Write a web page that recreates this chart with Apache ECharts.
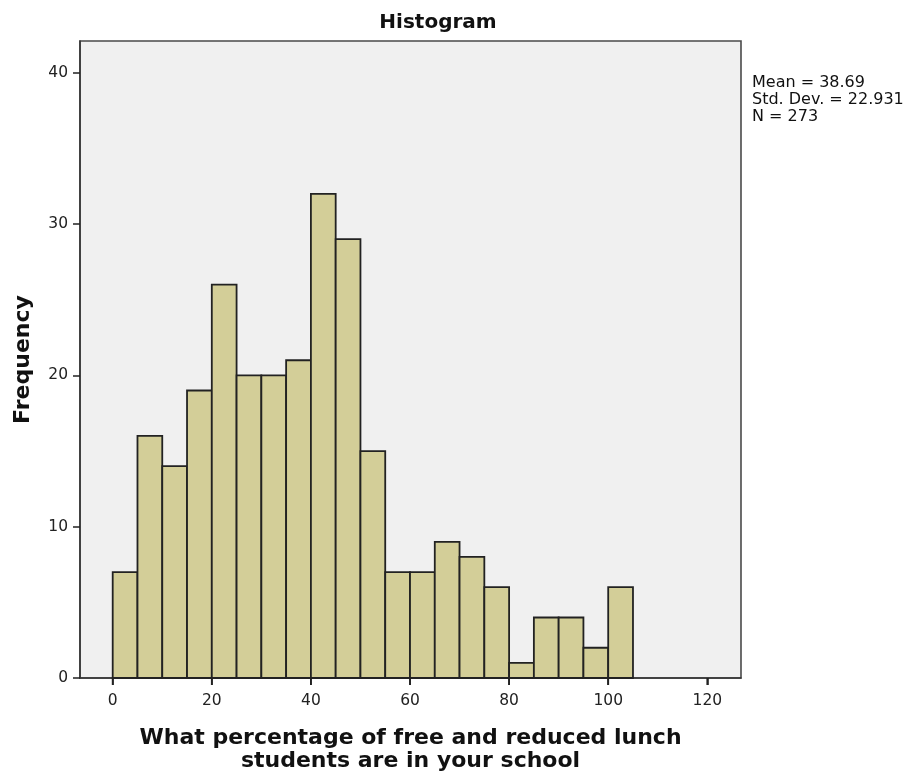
<!DOCTYPE html>
<html>
<head>
<meta charset="utf-8">
<script src="https://cdn.jsdelivr.net/npm/echarts@6/dist/echarts.min.js"></script>
<style>
  html, body { margin: 0; padding: 0; background: #fff; }
  #main { width: 914px; height: 773px; }
</style>
</head>
<body>
<div id="main"></div>
<script>
// histogram bins (width 5) and frequencies
var binWidth = 5
var binStarts = [0, 5, 10, 15, 20, 25, 30, 35, 40, 45, 50, 55, 60, 65, 70, 75, 80, 85, 90, 95, 100]
var counts = [7, 16, 14, 19, 26, 20, 20, 21, 32, 29, 15, 7, 7, 9, 8, 6, 1, 4, 4, 2, 6]
var xTicks = [0, 20, 40, 60, 80, 100, 120]
var yTicks = [0, 10, 20, 30, 40]
var statLines = ['Mean = 38.69', 'Std. Dev. = 22.931', 'N = 273']

var chart = echarts.init(document.getElementById('main'))
var font = 'DejaVu Sans'

var data = binStarts.map(function (s, i) {
  return [s, s + binWidth, counts[i]]
})

var option = {
  animation: false,
  backgroundColor: '#fff',
  title: {
    text: 'Histogram',
    left: 433,
    textAlign: 'center',
    top: 8,
    textStyle: { fontFamily: font, fontSize: 20, fontWeight: 'bold', color: '#111' }
  },
  grid: {
    left: 80, right: 173, top: 41, bottom: 95,
    outerBoundsMode: 'none',
    containLabel: false,
    show: true,
    backgroundColor: '#f0f0f0',
    borderColor: '#4a4a4a',
    borderWidth: 1.6
  },
  xAxis: {
    type: 'value',
    min: -6.6,
    max: 126.8,
    name: 'What percentage of free and reduced lunch\nstudents are in your school',
    nameLocation: 'middle',
    nameGap: 49,
    nameTextStyle: { fontFamily: font, fontSize: 22, fontWeight: 'bold', color: '#111', lineHeight: 23 },
    axisLine: { show: true, onZero: false, lineStyle: { color: '#333', width: 1.5 } },
    axisTick: { show: true, length: 7, lineStyle: { color: '#222', width: 1.5 },
      customValues: xTicks },
    axisLabel: { fontFamily: font, fontSize: 15.5, color: '#222', margin: 15,
      customValues: xTicks },
    splitLine: { show: false }
  },
  yAxis: {
    type: 'value',
    min: 0,
    max: 42.1,
    name: 'Frequency',
    nameLocation: 'middle',
    nameGap: 46,
    nameTextStyle: { fontFamily: font, fontSize: 22, fontWeight: 'bold', color: '#111' },
    axisLine: { show: true, onZero: false, lineStyle: { color: '#333', width: 1.5 } },
    axisTick: { show: true, length: 7, lineStyle: { color: '#222', width: 1.5 },
      customValues: yTicks },
    axisLabel: { fontFamily: font, fontSize: 15.5, color: '#222', margin: 12,
      customValues: yTicks },
    splitLine: { show: false }
  },
  graphic: statLines.map(function (t, i) {
    return {
      type: 'text',
      left: 752,
      top: 75 + i * 17,
      style: { text: t, fontFamily: font, fontSize: 16, fill: '#111' }
    }
  }),
  series: [{
    type: 'custom',
    data: data,
    encode: { x: [0, 1], y: 2 },
    renderItem: function (params, api) {
      var p0 = api.coord([api.value(0), api.value(2)])
      var p1 = api.coord([api.value(1), 0])
      return {
        type: 'rect',
        shape: { x: p0[0], y: p0[1], width: p1[0] - p0[0], height: p1[1] - p0[1] },
        style: { fill: '#d3ce98', stroke: '#222', lineWidth: 1.8 }
      }
    }
  }, {
    // x axis tick marks below the plot, placed by the x scale
    type: 'custom',
    silent: true,
    clip: false,
    data: xTicks.map(function (v) { return [v, 0] }),
    encode: { x: 0, y: 1 },
    renderItem: function (params, api) {
      var p = api.coord([api.value(0), 0])
      return {
        type: 'line',
        shape: { x1: p[0], y1: p[1], x2: p[0], y2: p[1] + 7 },
        style: { stroke: '#222', lineWidth: 1.8 }
      }
    }
  }]
}

option && chart.setOption(option)
</script>
</body>
</html>
